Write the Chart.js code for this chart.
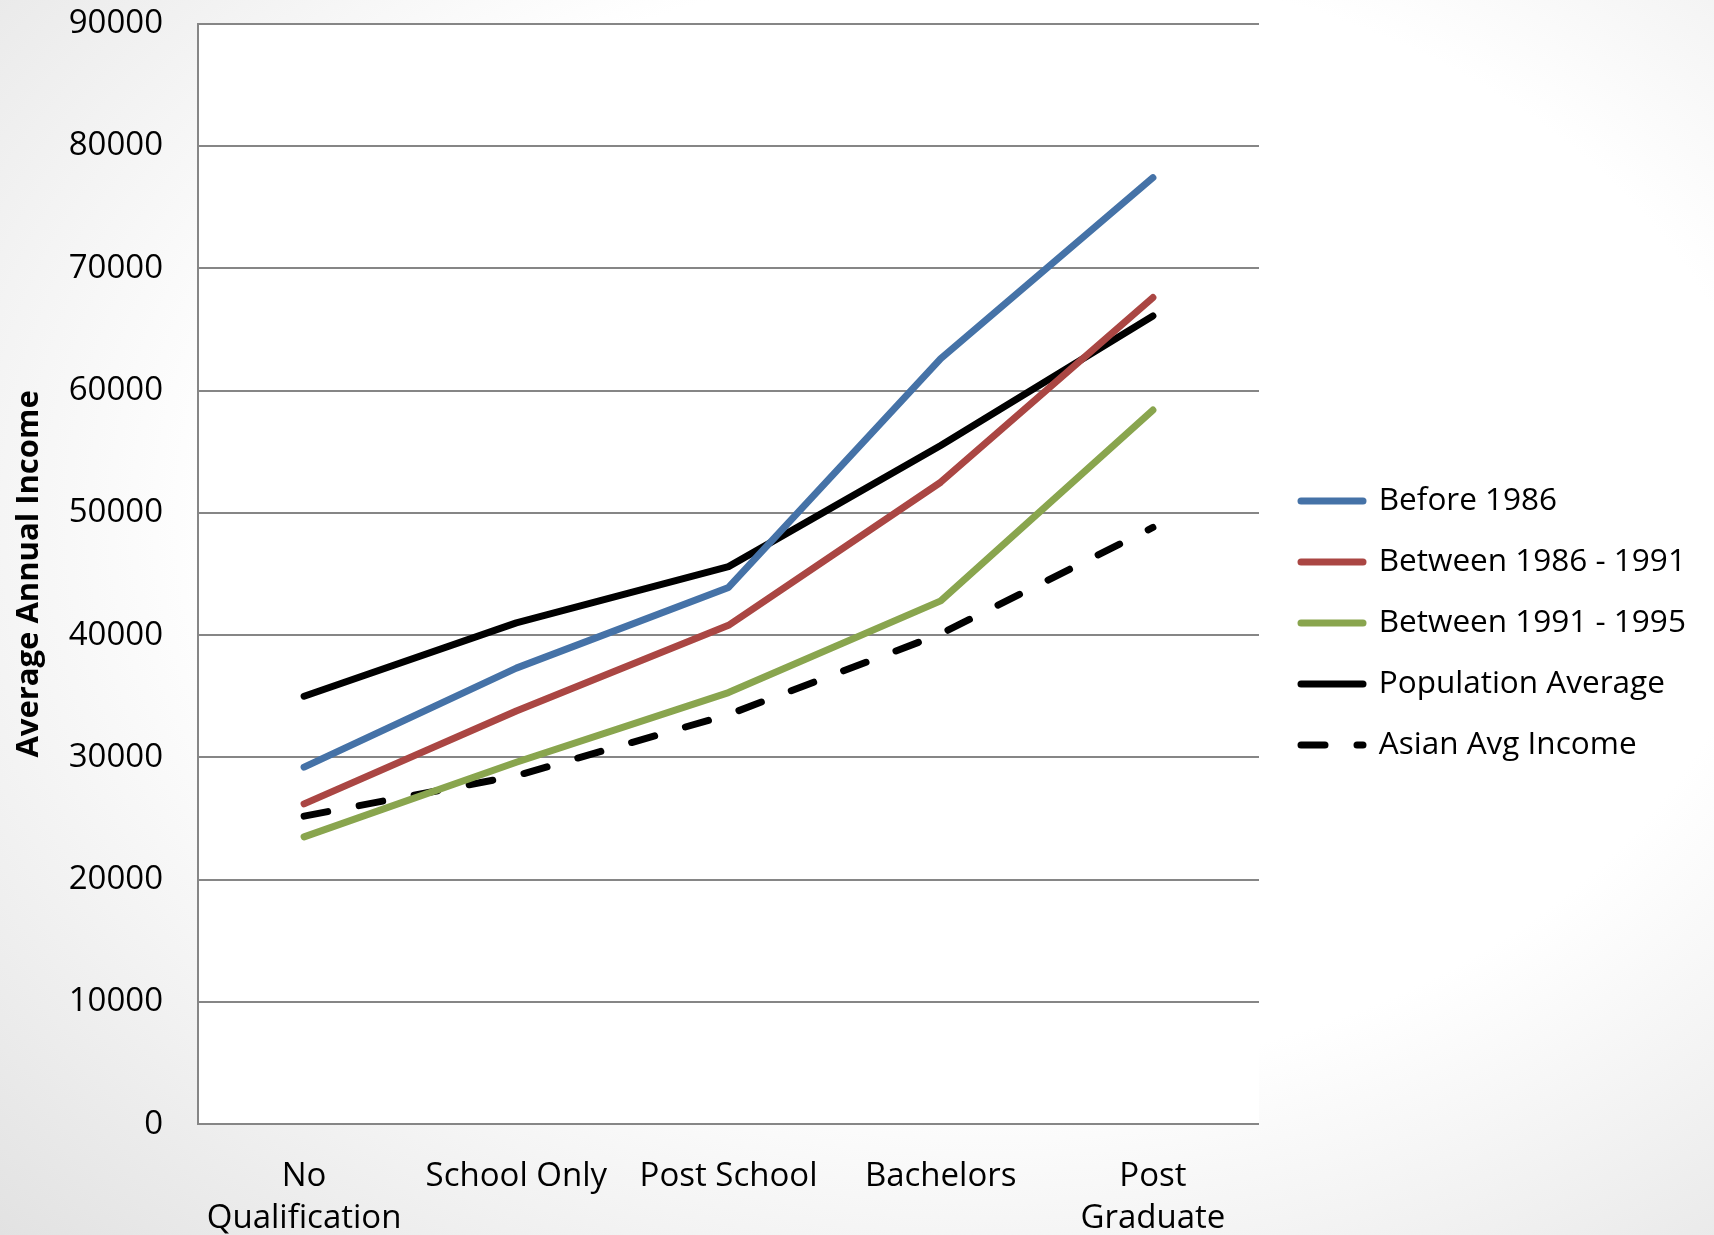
<!DOCTYPE html>
<html><head><meta charset="utf-8">
<script src="https://cdn.jsdelivr.net/npm/chart.js@4.4.1/dist/chart.umd.min.js"></script>
<style>
html,body{margin:0;padding:0;width:1714px;height:1235px;overflow:hidden;}
body{background:radial-gradient(ellipse farthest-corner at 58% 42%, #ffffff 55%, #e2e2e2 100%);}
canvas{display:block;}
</style></head><body>
<canvas id="c" width="1714" height="1235"></canvas>
<script>
const categories = [["No","Qualification"], "School Only", "Post School", "Bachelors", ["Post","Graduate"]];
const seriesNames = ["Before 1986", "Between 1986 - 1991", "Between 1991 - 1995", "Population Average", "Asian Avg Income"];
const before1986 = [29200, 37300, 43900, 62600, 77400];
const between1986_1991 = [26200, 33800, 40800, 52500, 67600];
const between1991_1995 = [23500, 29600, 35300, 42800, 58400];
const populationAverage = [35000, 41000, 45600, 55500, 66100];
const asianAvgIncome = [25200, 28500, 33500, 40100, 48800];
const yTicks = [0, 10000, 20000, 30000, 40000, 50000, 60000, 70000, 80000, 90000];
const yTitle = "Average Annual Income";

const FONT = "'Open Sans', 'DejaVu Sans', sans-serif";
const colors = ["#4572A7", "#AA4643", "#89A54E", "#000000", "#000000"];
const dashes = [[], [], [], [], [24, 32]];
const values = [before1986, between1986_1991, between1991_1995, populationAverage, asianAvgIncome];

const datasets = seriesNames.map((name, i) => ({
  label: name,
  data: values[i],
  borderColor: colors[i],
  backgroundColor: colors[i],
  borderWidth: 7,
  borderCapStyle: 'round',
  borderJoinStyle: 'round',
  borderDash: dashes[i],
  pointRadius: 0,
  pointHoverRadius: 0,
  tension: 0,
  fill: false
}));

const plotBg = {
  id: 'plotBg',
  beforeDraw(chart) {
    const {ctx, chartArea: a} = chart;
    ctx.save();
    ctx.fillStyle = '#ffffff';
    ctx.fillRect(a.left, a.top, a.right - a.left, a.bottom - a.top);
    ctx.restore();
  }
};

new Chart(document.getElementById('c'), {
  type: 'line',
  data: { labels: categories, datasets },
  plugins: [plotBg],
  options: {
    responsive: false,
    animation: false,
    devicePixelRatio: 1,
    layout: { padding: { top: 11, right: 22.5, bottom: 0, left: 0 } },
    plugins: {
      tooltip: { enabled: false },
      legend: {
        position: 'right',
        maxWidth: 420,
        labels: {
          usePointStyle: true,
          pointStyle: 'line',
          pointStyleWidth: 62,
          padding: 29.5,
          color: '#000',
          font: { family: FONT, size: 31.5 },
          generateLabels(chart) {
            const items = Chart.defaults.plugins.legend.labels.generateLabels(chart);
            items.forEach((it) => {
              const ds = chart.data.datasets[it.datasetIndex];
              it.lineWidth = ds.borderWidth;
              it.lineDash = ds.borderDash;
              it.lineCap = 'round';
              it.strokeStyle = ds.borderColor;
              it.fillStyle = ds.borderColor;
            });
            return items;
          }
        }
      }
    },
    scales: {
      x: {
        offset: true,
        grid: { display: false, drawTicks: false },
        border: { display: false },
        ticks: {
          color: '#000', font: { family: FONT, size: 33, lineHeight: 1.27 },
          padding: 31, maxRotation: 0, minRotation: 0, autoSkip: false
        },
        afterFit(s) { s.height = 110.7; }
      },
      y: {
        min: yTicks[0], max: yTicks[yTicks.length - 1],
        afterBuildTicks(s) { s.ticks = yTicks.map(v => ({ value: v })); },
        grid: { color: '#868686', lineWidth: 2, drawTicks: true, tickLength: 31.2, tickColor: 'rgba(0,0,0,0)' },
        border: { display: true, color: '#868686', width: 2 },
        ticks: { color: '#000', font: { family: FONT, size: 33 }, padding: 3.8, callback: v => String(v) },
        title: {
          display: true, text: yTitle, color: '#000',
          font: { family: FONT, size: 31, weight: 'bold' },
          padding: { top: 10.4, bottom: 0 }
        },
        afterFit(s) { s.width = 198; }
      },
      pad: {
        type: 'linear', position: 'right', display: true,
        grid: { display: false, drawTicks: false },
        border: { display: false },
        ticks: { display: false },
        afterFit(s) { s.width = 12.5; }
      }
    }
  }
});
</script>
</body></html>
